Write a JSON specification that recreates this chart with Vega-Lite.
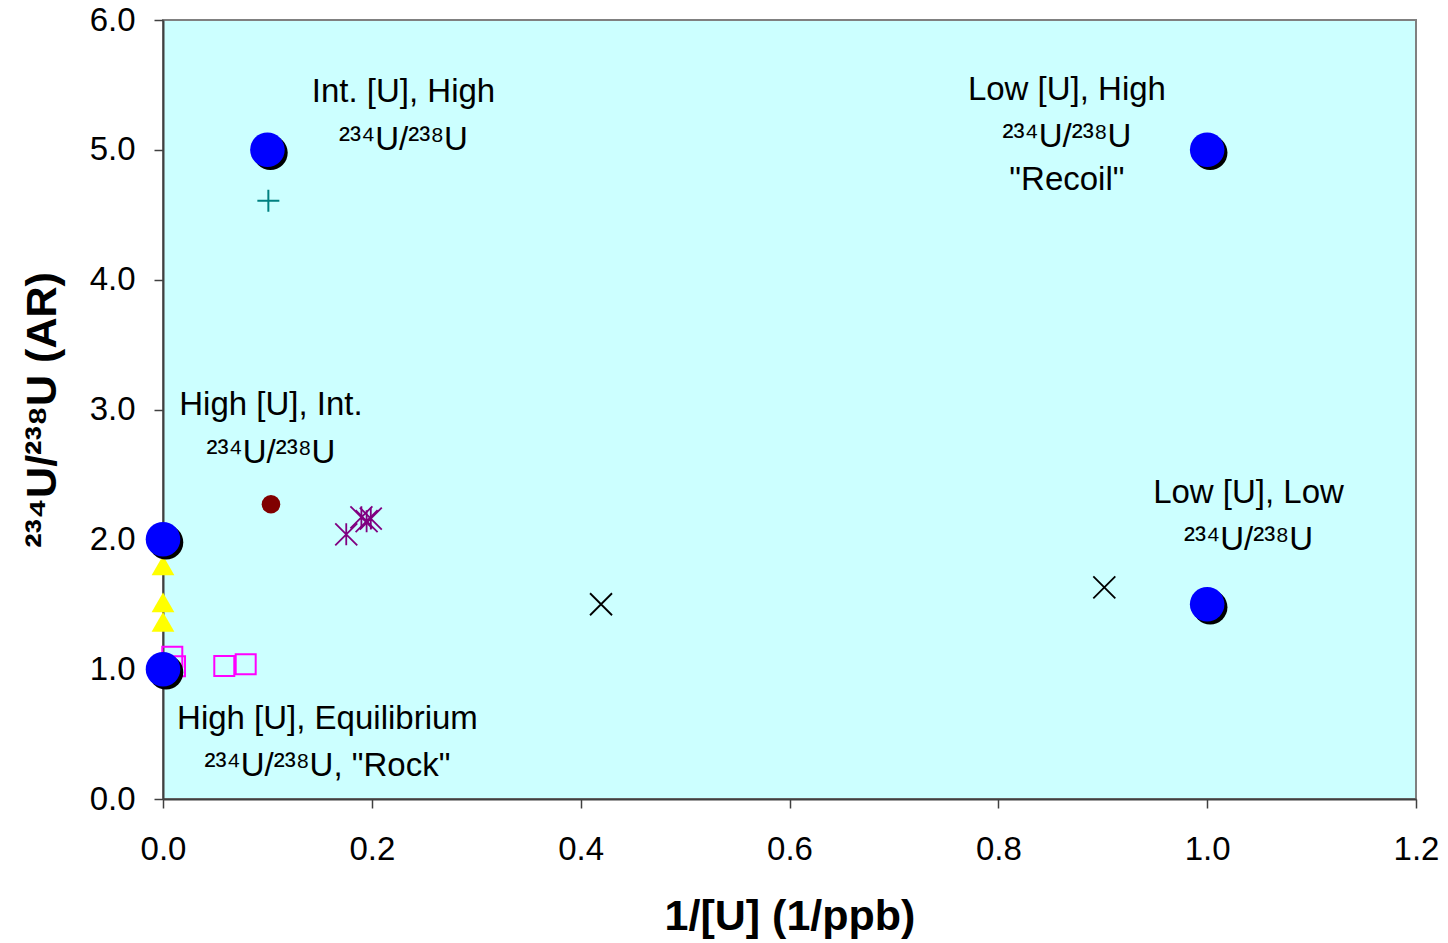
{
  "$schema": "https://vega.github.io/schema/vega-lite/v6.json",
  "width": 1253,
  "height": 779,
  "autosize": {"type": "none"},
  "padding": {"left": 163, "top": 20, "right": 32, "bottom": 144},
  "background": "white",
  "config": {
    "view": {"fill": "#CCFFFF", "stroke": "#808080", "strokeWidth": 2},
    "font": "Liberation Sans"
  },
  "encoding": {
    "x": {
      "field": "x", "type": "quantitative",
      "scale": {"domain": [0, 1.2], "nice": false, "zero": false},
      "axis": {
        "title": "1/[U] (1/ppb)", "values": [0, 0.2, 0.4, 0.6, 0.8, 1.0, 1.2], "format": ".1f",
        "grid": false, "labelFontSize": 33, "labelFont": "Liberation Sans", "labelColor": "black",
        "labelFlush": false, "labelOverlap": false,
        "labelPadding": 25, "tickSize": 9, "tickColor": "#404040", "tickWidth": 1.5,
        "domainColor": "#404040", "domainWidth": 2,
        "titleFontSize": 43, "titleFont": "Liberation Sans", "titleFontWeight": "bold", "titleColor": "black",
        "titlePadding": 29
      }
    },
    "y": {
      "field": "y", "type": "quantitative",
      "scale": {"domain": [0, 6], "nice": false, "zero": false},
      "axis": {
        "title": "²³⁴U/²³⁸U (AR)", "values": [0, 1, 2, 3, 4, 5, 6], "format": ".1f",
        "grid": false, "labelFontSize": 33, "labelFont": "Liberation Sans", "labelColor": "black",
        "labelFlush": false, "labelOverlap": false,
        "labelPadding": 19, "tickSize": 9, "tickColor": "#404040", "tickWidth": 1.5,
        "domainColor": "#404040", "domainWidth": 2,
        "titleFontSize": 43, "titleFont": "Liberation Sans", "titleFontWeight": "bold", "titleColor": "black",
        "titlePadding": 25
      }
    }
  },
  "layer": [
    {
      "data": {"values": [
        {"x": 0.0089, "y": 1.096}, {"x": 0.0115, "y": 1.022},
        {"x": 0.0587, "y": 1.025}, {"x": 0.0792, "y": 1.038}
      ]},
      "mark": {"type": "point", "shape": "square", "filled": false, "stroke": "#FF00FF", "strokeWidth": 2, "size": 400, "opacity": 1, "clip": false}
    },
    {
      "data": {"values": [
        {"x": 0, "y": 1.97}, {"x": 0, "y": 1.80}, {"x": 0, "y": 1.514}, {"x": 0, "y": 1.364}
      ]},
      "mark": {"type": "point", "shape": "triangle-up", "filled": true, "fill": "#FFFF00", "size": 520, "opacity": 1, "strokeWidth": 0, "clip": false}
    },
    {
      "data": {"values": [{"x": 0.1034, "y": 2.27}]},
      "mark": {"type": "point", "shape": "circle", "filled": true, "fill": "#800000", "size": 346, "opacity": 1, "strokeWidth": 0}
    },
    {
      "data": {"values": [
        {"x": 0.1755, "y": 2.039}, {"x": 0.190, "y": 2.17}, {"x": 0.195, "y": 2.14}, {"x": 0.199, "y": 2.16}
      ]},
      "mark": {"type": "point", "shape": "M-1,-1L1,1M-1,1L1,-1M0,-1L0,1", "filled": false, "stroke": "#800080", "strokeWidth": 1.8, "size": 484, "opacity": 1}
    },
    {
      "data": {"values": [{"x": 0.1009, "y": 4.607}]},
      "mark": {"type": "point", "shape": "M-1,0L1,0M0,-1L0,1", "filled": false, "stroke": "#008080", "strokeWidth": 2, "size": 484, "opacity": 1}
    },
    {
      "data": {"values": [{"x": 0.4195, "y": 1.50}, {"x": 0.9015, "y": 1.63}]},
      "mark": {"type": "point", "shape": "M-1,-1L1,1M-1,1L1,-1", "filled": false, "stroke": "#000000", "strokeWidth": 1.8, "size": 484, "opacity": 1}
    },
    {
      "data": {"values": [
        {"x": 0, "y": 1.0}, {"x": 0, "y": 2.0}, {"x": 0.1, "y": 5.0}, {"x": 1.0, "y": 5.0}, {"x": 1.0, "y": 1.5}
      ]},
      "mark": {"type": "point", "shape": "circle", "filled": true, "fill": "#000000", "size": 1195, "opacity": 1, "strokeWidth": 0, "xOffset": 3, "yOffset": 3, "clip": false}
    },
    {
      "data": {"values": [
        {"x": 0, "y": 1.0}, {"x": 0, "y": 2.0}, {"x": 0.1, "y": 5.0}, {"x": 1.0, "y": 5.0}, {"x": 1.0, "y": 1.5}
      ]},
      "mark": {"type": "point", "shape": "circle", "filled": true, "fill": "#0000FF", "size": 1195, "opacity": 1, "strokeWidth": 0, "clip": false}
    },
    {
      "data": {"values": [
        {"x": 0.2303, "y": 5.372, "label": "Int. [U], High"},
        {"x": 0.2303, "y": 5.0, "label": "²³⁴U/²³⁸U"},
        {"x": 0.8657, "y": 5.385, "label": "Low [U], High"},
        {"x": 0.8657, "y": 5.023, "label": "²³⁴U/²³⁸U"},
        {"x": 0.8657, "y": 4.69, "label": "\"Recoil\""},
        {"x": 0.1034, "y": 2.96, "label": "High [U], Int."},
        {"x": 0.1034, "y": 2.589, "label": "²³⁴U/²³⁸U"},
        {"x": 1.0396, "y": 2.28, "label": "Low [U], Low"},
        {"x": 1.0396, "y": 1.918, "label": "²³⁴U/²³⁸U"},
        {"x": 0.1575, "y": 0.539, "label": "High [U], Equilibrium"},
        {"x": 0.1575, "y": 0.177, "label": "²³⁴U/²³⁸U, \"Rock\""}
      ]},
      "mark": {"type": "text", "align": "center", "baseline": "alphabetic", "fontSize": 33, "font": "Liberation Sans", "color": "black"},
      "encoding": {"text": {"field": "label"}}
    }
  ]
}
